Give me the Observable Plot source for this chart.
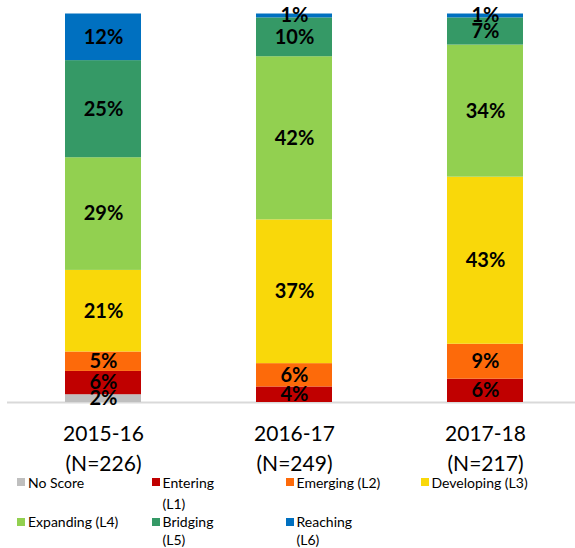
<!DOCTYPE html>
<html><head><meta charset="utf-8">
<script src="https://cdn.jsdelivr.net/npm/d3@7"></script>
<script src="https://cdn.jsdelivr.net/npm/@observablehq/plot@0.6"></script>
<style>
html,body{margin:0;background:#fff;font-family:Lato, "Open Sans", sans-serif;}
body{min-height:548px;}
#chart{position:relative;width:575px;}
.legend{position:relative;width:575px;height:76px;margin-top:-4px;font-size:14px;color:#000;}
.item{position:absolute;display:flex;align-items:flex-start;}
.sw{width:8px;height:8px;margin-right:3px;flex:none;}
</style></head><body><div id="chart"></div>
<script>
const years = ["2015-16", "2016-17", "2017-18"];
const nCounts = [226, 249, 217];
const series = ["No Score", "Entering (L1)", "Emerging (L2)", "Developing (L3)", "Expanding (L4)", "Bridging (L5)", "Reaching (L6)"];
const colors = ["#bfbfbf", "#c00000", "#fd6a0a", "#f9d80a", "#92d050", "#359966", "#0070c0"];
const noScore = [2, 0, 0];
const entering = [6, 4, 6];
const emerging = [5, 6, 9];
const developing = [21, 37, 43];
const expanding = [29, 42, 34];
const bridging = [25, 10, 7];
const reaching = [12, 1, 1];

const seriesValues = [noScore, entering, emerging, developing, expanding, bridging, reaching];
const data = [];
years.forEach((yr, i) => {
  series.forEach((s, j) => data.push({year: yr, series: s, value: seriesValues[j][i]}));
});

const plot = Plot.plot({
  width: 575,
  height: 476,
  marginTop: 13.5,
  marginBottom: 74,
  marginLeft: 7,
  marginRight: 0,
  style: {fontFamily: "Lato, 'Open Sans', sans-serif", background: "#fff", overflow: "visible"},
  x: {domain: years, range: [6.5, 581], paddingInner: 0.6, paddingOuter: 0.3, label: null},
  y: {domain: [0, 100], axis: null},
  color: {domain: series, range: colors},
  marks: [
    Plot.ruleY([0], {stroke: "#d9d9d9", strokeWidth: 2}),
    Plot.barY(data, {x: "year", y: "value", fill: "series", z: "series", order: series}),
    Plot.text(data, Plot.stackY({
      filter: d => d.value > 0,
      x: "year", y: "value", z: "series", order: series,
      text: d => d.value + "%",
      fontSize: 20, fontWeight: "bold", fill: "#000"
    })),
    Plot.axisX({
      tickSize: 0, tickPadding: 18, fontSize: 21, lineHeight: 1.4, fill: "#000",
      tickFormat: d => `${d}\n(N=${nCounts[years.indexOf(d)]})`
    })
  ]
});
document.getElementById("chart").appendChild(plot);

// legend
const colX = [17, 151.5, 285.5, 420.5];
const rowTop = [-0.5, 41];
const rowLine = [21, 18];
const textWidth = [null, 60, null, null, null, 60, 60];
const legend = document.createElement("div");
legend.className = "legend";
series.forEach((s, i) => {
  const r = Math.floor(i / 4);
  const it = document.createElement("div");
  it.className = "item";
  it.style.left = colX[i % 4] + "px";
  it.style.top = rowTop[r] + "px";
  it.style.lineHeight = rowLine[r] + "px";
  const sw = document.createElement("span");
  sw.className = "sw";
  sw.style.marginTop = (rowLine[r] - 8) / 2 + "px";
  sw.style.background = colors[i];
  const tx = document.createElement("span");
  tx.textContent = s;
  if (textWidth[i]) tx.style.width = textWidth[i] + "px";
  else tx.style.whiteSpace = "nowrap";
  it.appendChild(sw); it.appendChild(tx);
  legend.appendChild(it);
});
document.getElementById("chart").appendChild(legend);
</script></body></html>
